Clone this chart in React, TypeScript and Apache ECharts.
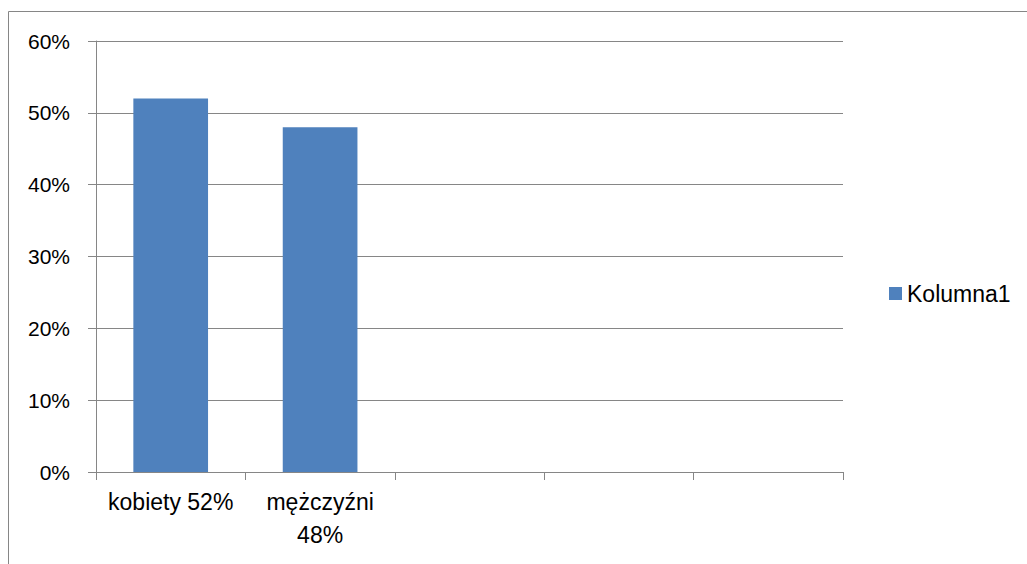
import React, { useEffect, useRef } from "react";
import * as echarts from "echarts";

const categories = ["kobiety 52%", "mężczyźni\n48%", "", "", ""];
const values = [0.52, 0.48, null, null, null];
const seriesName = "Kolumna1";
const yTicks = [0, 0.1, 0.2, 0.3, 0.4, 0.5, 0.6];

export default function App() {
  const ref = useRef<HTMLDivElement>(null);
  useEffect(() => {
    if (!ref.current) return;
    const chart = echarts.init(ref.current, null, { renderer: "svg" });
    const font = "'Liberation Sans', Arial, sans-serif";
    chart.setOption({
      animation: false,
      backgroundColor: "#ffffff",
      textStyle: { fontFamily: font },
      graphic: [
        {
          type: "rect",
          shape: { x: 8.5, y: 11.5, width: 2000, height: 2000 },
          style: { fill: "none", stroke: "#868686", lineWidth: 1 },
          silent: true,
        },
      ],
      grid: { left: 96, right: 184, top: 41, bottom: 92, containLabel: false },
      legend: {
        show: true,
        left: 884,
        top: 277,
        orient: "vertical",
        itemWidth: 13,
        itemHeight: 13,
        icon: "rect",
        textStyle: { fontSize: 23, color: "#000", fontFamily: font },
        data: [seriesName],
      },
      xAxis: {
        type: "category",
        data: categories,
        axisLine: { show: true, lineStyle: { color: "#868686", width: 1 } },
        axisTick: { show: true, length: 8, alignWithLabel: false, lineStyle: { color: "#868686" } },
        axisLabel: {
          fontSize: 23,
          color: "#000",
          lineHeight: 33,
          margin: 13,
          interval: 0,
          fontFamily: font,
        },
        splitLine: { show: false },
      },
      yAxis: {
        type: "value",
        min: yTicks[0],
        max: yTicks[yTicks.length - 1],
        interval: 0.1,
        axisLine: { show: true, lineStyle: { color: "#868686", width: 1 } },
        axisTick: { show: true, length: 8, lineStyle: { color: "#868686" } },
        axisLabel: {
          fontSize: 21,
          color: "#000",
          margin: 26,
          fontFamily: font,
          formatter: (v: number) => Math.round(v * 100) + "%",
        },
        splitLine: { show: true, lineStyle: { color: "#868686", width: 1 } },
      },
      series: [
        {
          name: seriesName,
          type: "bar",
          data: values,
          barCategoryGap: "50%",
          itemStyle: { color: "#4F81BD" },
        },
      ],
    });
    return () => chart.dispose();
  }, []);
  return (
    <div
      ref={ref}
      style={{ position: "absolute", left: 0, top: 0, width: 1027, height: 564 }}
    />
  );
}
